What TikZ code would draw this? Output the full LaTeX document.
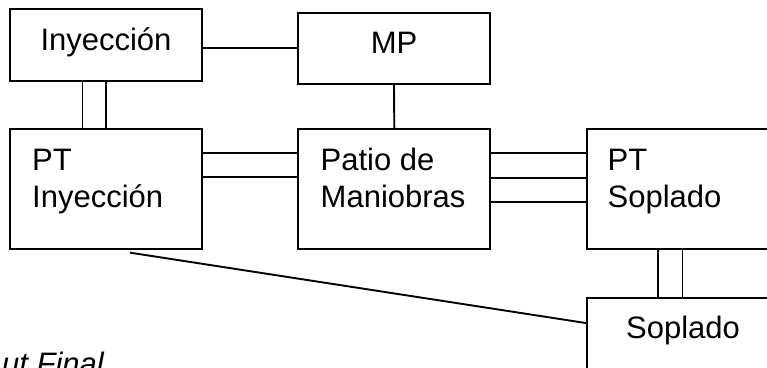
\documentclass[tikz,border=0pt]{standalone}
\usepackage{fontspec}
\setmainfont{Liberation Sans}
\usepackage{tikz}

\begin{document}
\begin{tikzpicture}[x=1pt,y=1pt]
\tikzstyle{every node}+=[inner sep=0pt]
\tikzstyle{box}=[draw=black, line width=1.9pt, minimum width=192pt]
\tikzstyle{txt}=[font=\fontsize{31}{37}\selectfont, text height=22pt, text depth=11pt]
\tikzstyle{twoline}=[font=\fontsize{31}{37}\selectfont, align=left, anchor=base west]
\tikzstyle{wire}=[draw=black, line width=1.9pt]
\useasboundingbox (0,0) rectangle (767,-367);
\node [box, minimum height=72pt, txt] (iny) at (106,-45) {Inyección};
\node [box, minimum height=71.5pt, txt] (mp) at (394,-48.3) {MP};
\node [box, minimum height=120pt] (pti) at (106,-189.2) {};
\node [twoline] (ptilabel) at (32,-207) {PT\\Inyección};
\node [box, minimum height=120pt] (patio) at (394.3,-189.2) {};
\node [twoline] (patiolabel) at (320.5,-207) {Patio de\\Maniobras};
\node [box, minimum height=120pt] (pts) at (683,-189.2) {};
\node [twoline] (ptslabel) at (607.5,-207) {PT\\Soplado};
\node [box, minimum height=120pt] (sop) at (683,-357.7) {};
\node [txt] (soplabel) at (683,-332.8) {Soplado};
\node [font=\fontsize{31}{37}\selectfont\itshape, anchor=base east] (final) at (104,-374) {ut Final};
\draw [wire] (mp.west) -- (mp.west -| iny.east);
\draw [wire] ([xshift=-23.5pt]iny.south) -- ([xshift=-23.5pt]pti.north);
\draw [wire] (iny.south) -- (pti.north);
\draw [wire] (mp.south) -- (patio.north);
\draw [wire] ([yshift=35.9pt]pti.east) -- ([yshift=35.9pt]patio.west);
\draw [wire] ([yshift=11.9pt]pti.east) -- ([yshift=11.9pt]patio.west);
\draw [wire] ([yshift=35.9pt]patio.east) -- ([yshift=35.9pt]pts.west);
\draw [wire] ([yshift=11.5pt]patio.east) -- ([yshift=11.5pt]pts.west);
\draw [wire] ([yshift=-12.5pt]patio.east) -- ([yshift=-12.5pt]pts.west);
\draw [wire] ([xshift=-25pt]pts.south) -- ([xshift=-25pt]sop.north);
\draw [wire] ([xshift=-0.5pt]pts.south) -- ([xshift=-0.5pt]sop.north);
\draw [wire] ([xshift=24pt,yshift=-2.5pt]pti.south) -- ([yshift=-26.3pt]sop.north west);
\end{tikzpicture}
\end{document}
